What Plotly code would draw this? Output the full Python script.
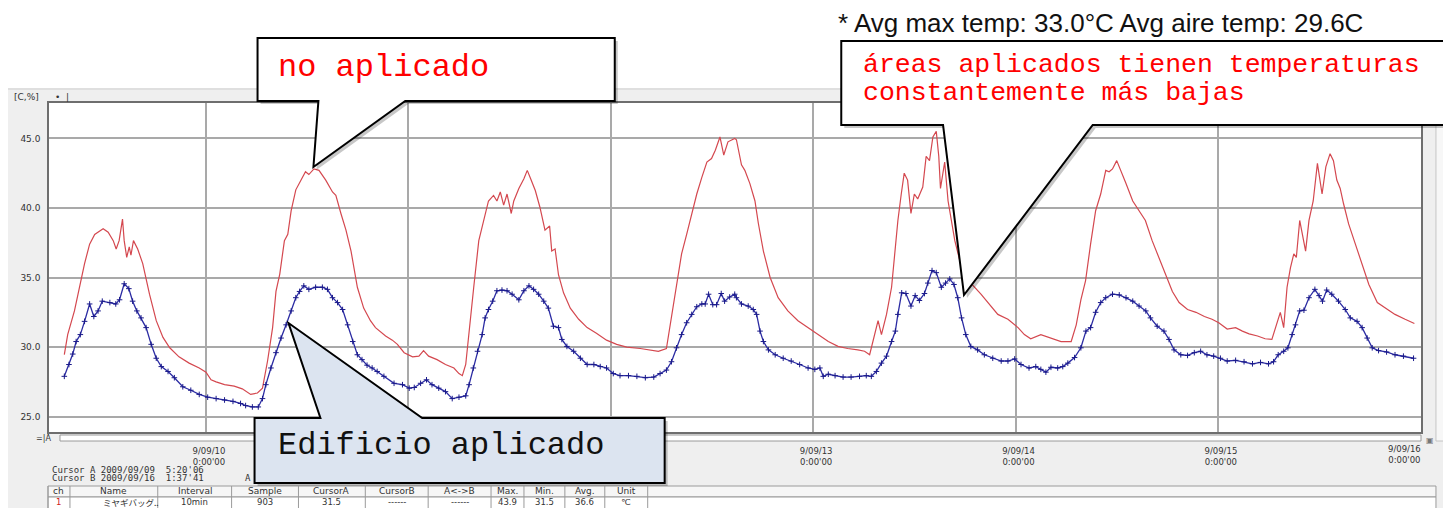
import plotly.graph_objects as go
from datetime import datetime, timedelta

# ---------------- data (hours after 2009-09-10 00:00, temperature in °C) ----------------
red_hours = [-16.8, -16.4, -15.6, -15.0, -14.4, -13.8, -13.2, -12.2, -11.6, -11.0, -10.65, -10.3, -9.9, -9.7,
             -9.4, -9.1, -8.9, -8.6, -8.1, -7.5, -6.7, -5.9, -5.1, -4.3, -3.2, -2.0, -0.8, 0.0, 0.6, 1.2, 2.2,
             3.35, 4.3, 5.3, 6.1, 6.7, 7.3, 7.9, 8.3, 8.75, 9.3, 9.7, 10.1, 10.65, 11.25, 11.8, 12.2, 12.8, 13.4,
             14.2, 15.0, 15.4, 16.0, 16.6, 17.2, 17.95, 18.7, 19.5, 20.1, 21.3, 22.1, 22.7, 23.5, 24.5, 25.25,
             25.8, 26.4, 27.4, 28.4, 29.4, 30.0, 30.4, 30.8, 31.2, 31.75, 32.35, 32.9, 33.5, 34.1, 34.5, 34.9,
             35.3, 35.7, 36.2, 36.5, 37.1, 37.7, 38.1, 38.5, 39.05, 39.6, 40.2, 40.75, 41.0, 41.4, 41.8, 42.4,
             43.2, 44.2, 45.2, 46.3, 47.5, 48.7, 49.9, 51.5, 52.7, 53.65, 54.6, 55.2, 55.8, 56.4, 57.0, 57.6,
             58.2, 58.8, 59.4, 59.95, 60.4, 60.95, 61.4, 61.9, 62.7, 62.9, 63.5, 63.9, 64.5, 65.1, 65.5, 66.1,
             66.9, 67.85, 69.0, 70.2, 71.4, 72.6, 73.8, 74.95, 76.1, 77.3, 78.1, 78.7, 79.1, 79.7, 80.1, 80.7,
             81.3, 81.7, 82.05, 82.45, 82.8, 83.2, 83.6, 84.0, 84.4, 85.0, 85.4, 85.8, 86.2, 86.6, 86.9, 87.1,
             87.6, 88.0, 88.8, 89.6, 90.7, 91.9, 93.1, 93.9, 95.1, 96.3, 97.05, 97.8, 99.0, 100.2, 101.4, 102.6,
             103.2, 103.75, 104.3, 104.9, 105.5, 106.1, 106.7, 107.1, 107.5, 108.0, 108.5, 109.1, 109.9, 110.65,
             111.4, 112.2, 113.0, 113.8, 114.6, 115.4, 116.4, 117.4, 118.4, 119.3, 120.1, 121.1, 122.1, 122.9,
             123.7, 124.7, 125.6, 126.4, 126.8, 127.4, 127.8, 128.2, 128.6, 129.0, 129.3, 129.7, 130.4, 130.8,
             131.3, 131.8, 132.35, 132.8, 133.3, 133.7, 134.1, 134.5, 134.9, 135.5, 136.3, 137.1, 137.9, 138.9,
             139.9, 141.0, 142.2, 143.3]
red_temp = [29.46, 30.9, 32.6, 34.3, 36.0, 37.4, 38.1, 38.5, 38.25, 37.65, 37.05, 37.65, 39.2, 37.65,
            36.45, 37.2, 36.6, 37.65, 37.05, 36.0, 33.8, 31.9, 30.7, 29.95, 29.3, 28.85, 28.5, 28.2, 27.65, 27.5, 27.3,
            27.2, 27.0, 26.6, 26.7, 27.05, 29.0, 31.4, 34.0, 35.25, 37.65, 38.1, 39.8, 41.3, 42.0, 42.6, 42.4, 42.8, 42.7,
            42.0, 41.15, 40.9, 39.6, 38.4, 36.9, 34.3, 32.8, 31.9, 31.4, 30.8, 30.5, 30.2, 29.6, 29.3, 29.35,
            29.75, 29.35, 29.1, 28.75, 28.5, 28.1, 27.95, 28.75, 30.9, 34.3, 37.65, 39.1, 40.5, 40.9, 40.5, 41.15,
            40.2, 41.0, 39.6, 40.5, 41.4, 42.1, 42.7, 42.1, 41.25, 40.05, 38.4, 38.7, 36.9, 37.05, 35.2, 33.9,
            32.8, 32.0, 31.4, 31.0, 30.5, 30.2, 30.0, 29.9, 29.8, 29.7, 29.9, 32.1, 34.3, 36.7, 38.1, 39.6,
            41.0, 42.2, 43.3, 43.55, 44.15, 45.1, 43.8, 44.75, 45.0, 44.9, 43.1, 42.7, 41.75, 40.5, 38.9, 36.9,
            35.0, 33.55, 32.6, 31.9, 31.4, 30.9, 30.4, 30.05, 29.9, 29.8, 29.7, 29.45, 30.4, 31.9, 30.9, 32.35,
            34.3, 36.9, 39.1, 41.0, 42.5, 42.0, 39.6, 41.0, 40.65, 41.5, 43.7, 43.4, 45.1, 45.5, 43.7, 41.4,
            43.3, 40.5, 37.65, 35.7, 34.6, 33.8, 32.95, 32.35, 32.0, 31.4, 30.9, 30.6, 30.9, 30.65, 30.4, 30.4,
            31.6, 33.4, 34.75, 37.4, 39.8, 41.0, 42.7, 42.6, 42.8, 43.4, 42.7, 41.75, 40.5, 39.8,
            39.1, 37.65, 36.45, 35.2, 34.0, 33.2, 32.7, 32.5, 32.2, 32.0, 31.75, 31.3, 31.4, 31.15,
            30.95, 30.8, 30.6, 30.55, 31.4, 32.5, 31.4, 34.3, 35.7, 36.7, 36.45, 39.1, 36.9, 39.1,
            40.5, 43.2, 41.0, 42.95, 43.9, 43.4, 42.0, 41.4, 40.3, 38.85, 37.4, 35.95, 34.5, 33.2,
            32.8, 32.35, 32.0, 31.7]

blue_hours = [-16.8, -16.25, -15.8, -15.4, -14.9, -14.4, -13.8, -13.3, -12.8, -12.3, -11.4, -10.7, -10.25, -9.7,
              -9.15, -8.7, -8.2, -7.7, -7.1, -6.5, -5.9, -5.3, -4.5, -3.75, -2.75, -1.8, -0.8, 0.2, 1.2, 2.2, 3.2,
              4.1, 4.7, 5.5, 6.2, 6.7, 7.1, 7.7, 8.3, 8.9, 9.5, 10.1, 10.65, 11.1, 11.6, 12.2, 13.0, 13.8, 14.4,
              15.0, 15.6, 16.2, 16.8, 17.4, 17.95, 18.5, 19.1, 19.7, 20.3, 21.1, 22.3, 23.3, 24.1, 24.7, 25.45,
              26.15, 26.8, 27.6, 28.4, 29.2, 30.0, 30.8, 31.2, 31.7, 32.2, 32.75, 33.1, 33.5, 34.0, 34.5, 35.1,
              35.7, 36.3, 37.1, 37.7, 38.3, 38.85, 39.45, 40.05, 40.6, 41.2, 41.8, 42.2, 42.8, 43.6, 44.4, 45.2,
              46.0, 46.75, 47.5, 48.3, 49.1, 50.1, 51.1, 52.1, 53.1, 53.85, 54.6, 55.2, 55.8, 56.4, 57.0, 57.6,
              58.2, 58.8, 59.2, 59.6, 60.1, 60.55, 61.1, 61.5, 62.1, 62.7, 62.9, 63.5, 64.3, 64.9, 65.3, 65.7,
              66.1, 66.7, 67.5, 68.45, 69.4, 70.4, 71.4, 72.2, 72.8, 73.2, 73.8, 74.6, 75.55, 76.5, 77.5, 78.3,
              78.9, 79.5, 80.1, 80.7, 81.3, 81.75, 82.05, 82.5, 83.0, 83.6, 84.1, 84.6, 85.2, 85.6, 86.1, 86.6,
              87.2, 87.7, 88.2, 88.7, 89.15, 89.6, 90.1, 90.7, 91.5, 92.3, 93.3, 94.3, 95.1, 95.9, 96.65, 97.6,
              98.4, 99.0, 99.6, 100.2, 101.0, 101.6, 102.2, 103.0, 103.75, 104.35, 104.9, 105.5, 106.1, 106.7,
              107.5, 108.3, 109.1, 109.9, 110.65, 111.45, 112.0, 112.8, 113.6, 114.2, 114.8, 115.6, 116.4, 117.2,
              117.95, 118.7, 119.5, 120.3, 121.1, 122.1, 123.1, 124.1, 125.05, 126.0, 126.6, 127.15, 127.8, 128.3,
              128.8, 129.2, 129.7, 130.2, 130.8, 131.5, 132.0, 132.4, 132.9, 133.5, 134.3, 135.1, 135.7, 136.5,
              137.1, 137.7, 138.3, 139.05, 140.0, 141.0, 142.0, 143.2]
blue_temp = [27.9, 28.75, 29.5, 30.4, 30.9, 31.85, 33.1, 32.2, 32.6, 33.3, 33.2, 33.1, 33.4, 34.55,
             34.2, 33.3, 32.6, 32.1, 31.4, 30.2, 29.2, 28.6, 28.25, 27.8, 27.15, 26.9, 26.6, 26.4, 26.3, 26.2, 26.1,
             25.95, 25.8, 25.7, 25.7, 26.3, 27.3, 28.5, 29.6, 30.65, 31.6, 32.6, 33.55, 34.0, 34.4, 34.15, 34.3, 34.3, 34.15,
             33.55, 33.2, 32.7, 31.6, 30.4, 29.45, 29.1, 28.7, 28.5, 28.25, 27.9, 27.4, 27.3, 27.05, 27.1, 27.4,
             27.65, 27.3, 27.05, 26.8, 26.3, 26.4, 26.5, 27.3, 28.5, 29.7, 30.9, 32.1, 32.7, 33.3, 34.05, 34.1,
             34.05, 33.8, 33.4, 34.05, 34.4, 34.15, 33.8, 33.3, 32.8, 31.5, 31.4, 30.55, 30.05, 29.7, 29.2, 28.75,
             28.75, 28.6, 28.5, 28.1, 27.95, 27.95, 27.9, 27.8, 27.85, 28.1, 28.35, 28.95, 29.95, 30.9, 31.75, 32.35,
             32.9, 33.1, 33.1, 33.8, 33.05, 33.05, 33.85, 33.3, 33.6, 33.8, 33.55, 33.1, 32.95, 32.7, 32.35, 31.15,
             30.4, 29.8, 29.45, 29.2, 29.0, 28.75, 28.5, 28.4, 28.5, 27.9, 28.05, 27.95, 27.85, 27.85, 27.9, 27.95,
             27.9, 28.25, 28.85, 29.35, 30.4, 31.15, 32.35, 33.9, 33.85, 32.95, 33.7, 33.35, 33.85, 34.6, 35.5, 35.35,
             34.3, 34.6, 34.9, 34.5, 33.55, 32.1, 30.9, 30.05, 29.8, 29.45, 29.2, 29.0, 29.0, 29.15, 28.75, 28.5,
             28.6, 28.4, 28.2, 28.55, 28.5, 28.6, 28.85, 29.25, 29.95, 31.15, 31.4, 32.5, 33.2, 33.55,
             33.8, 33.75, 33.55, 33.3, 32.95, 32.6, 32.1, 31.5, 31.15, 30.55, 29.8, 29.45, 29.4, 29.6,
             29.7, 29.45, 29.35, 29.2, 29.0, 29.05, 28.95, 28.8, 28.9, 28.8, 28.95, 29.45, 29.7, 29.95,
             30.9, 31.6, 32.6, 32.65, 33.55, 34.15, 33.7, 33.3, 34.1, 33.8, 33.3, 32.7, 32.1, 31.85,
             31.4, 30.65, 29.95, 29.75, 29.65, 29.45, 29.35, 29.2]

y_tick_values = [25, 30, 35, 40, 45]
x_tick_days = ["2009-09-10", "2009-09-11", "2009-09-12", "2009-09-13", "2009-09-14", "2009-09-15", "2009-09-16"]
# labels of 9/11 and 9/12 are hidden behind the callout box in the reference; 9/16 is drawn shifted (edge)
x_tick_text = ["9/09/10<br>0:00'00", "", "", "9/09/13<br>0:00'00",
               "9/09/14<br>0:00'00", "9/09/15<br>0:00'00", ""]
last_tick_text = "9/09/16<br>0:00'00"

cursor_lines = ["Cursor A 2009/09/09  5:20'06", "Cursor B 2009/09/16  1:37'41"]
table_header = ["ch", "Name", "Interval", "Sample", "CursorA", "CursorB", "A<->B", "Max.", "Min.", "Avg.", "Unit"]
table_row = ["1", "ミヤギバッグ..", "10min", "903", "31.5", "------", "------", "43.9", "31.5", "36.6", "℃"]

note_text = "* Avg max temp: 33.0°C Avg aire temp: 29.6C"
label_no = "no aplicado"
label_areas = ["áreas aplicados tienen temperaturas", "constantemente más bajas"]
label_edif = "Edificio aplicado"

# ---------------- geometry helpers (page pixels; page body has an 8px margin) ----------------
OFF = 8
W, H = 1451 - OFF, 508 - OFF
ML, MR, MT, MB = 38, 30, 95, 76
PW, PH = W - ML - MR, H - MT - MB


def X(px):
    return (px - OFF - ML) / PW


def Y(py):
    return (H - MB - (py - OFF)) / PH


def path(points):
    return "M " + " L ".join(f"{X(a):.5f},{Y(b):.5f}" for a, b in points) + " Z"


base = datetime(2009, 9, 10)
red_x = [base + timedelta(hours=h) for h in red_hours]
blue_x = [base + timedelta(hours=h) for h in blue_hours]

fig = go.Figure()
fig.add_trace(go.Scatter(x=red_x, y=red_temp, mode="lines", name="no aplicado",
                         line=dict(color="#d4484f", width=1.2)))
fig.add_trace(go.Scatter(x=blue_x, y=blue_temp, mode="lines+markers", name="aplicado",
                         line=dict(color="#2b2ba3", width=1.3),
                         marker=dict(symbol="cross-thin", size=4, line=dict(color="#1a1a8a", width=1))))

shapes = []
# window chrome (below plot)
shapes.append(dict(type="rect", xref="paper", yref="paper", x0=X(0), x1=X(1460), y0=Y(88), y1=Y(520),
                   fillcolor="#efefef", line=dict(width=0), layer="below"))
shapes.append(dict(type="line", xref="paper", yref="paper", x0=X(0), x1=X(1460), y0=Y(89), y1=Y(89),
                   line=dict(color="#cfcfcf", width=1), layer="below"))
shapes.append(dict(type="rect", xref="paper", yref="paper", x0=0, x1=1, y0=0, y1=1,
                   fillcolor="white", line=dict(width=0), layer="below"))
# scrollbars
shapes.append(dict(type="rect", xref="paper", yref="paper", x0=X(57), x1=X(1421), y0=Y(435), y1=Y(441),
                   fillcolor="white", line=dict(color="#9a9a9a", width=1), layer="below"))
shapes.append(dict(type="rect", xref="paper", yref="paper", x0=X(1436), x1=X(1450), y0=Y(92), y1=Y(441),
                   fillcolor="#f7f7f7", line=dict(color="#c4c4c4", width=1), layer="below"))
# table
shapes.append(dict(type="rect", xref="paper", yref="paper", x0=X(45), x1=X(1436), y0=Y(486), y1=Y(497),
                   fillcolor="#f6f6f6", line=dict(color="#9a9a9a", width=1), layer="below"))
shapes.append(dict(type="rect", xref="paper", yref="paper", x0=X(45), x1=X(1436), y0=Y(497), y1=Y(515),
                   fillcolor="white", line=dict(color="#9a9a9a", width=1), layer="below"))
col_edges = [45, 67, 155, 229, 296, 363, 426, 489, 522, 563, 603, 646]
for cx in col_edges:
    shapes.append(dict(type="line", xref="paper", yref="paper", x0=X(cx), x1=X(cx), y0=Y(486), y1=Y(515),
                       line=dict(color="#9a9a9a", width=1), layer="below"))

# callouts (above)
callouts = [
    ([(255, 38), (613, 38), (613, 101), (403, 101), (311, 167), (316, 101), (255, 101)], "white"),
    ([(840, 41), (1446, 41), (1446, 125), (1092, 125), (963, 295), (942, 125), (840, 125)], "white"),
    ([(252, 418), (318, 418), (286, 323), (420, 418), (663, 418), (663, 483), (252, 483)], "#dce4f0"),
]
for pts, fill in callouts:
    shadow = [(a + 3, b + 3) for a, b in pts]
    shapes.append(dict(type="path", xref="paper", yref="paper", path=path(shadow),
                       fillcolor="rgba(0,0,0,0.22)", line=dict(width=0), layer="above"))
    shapes.append(dict(type="path", xref="paper", yref="paper", path=path(pts),
                       fillcolor=fill, line=dict(color="black", width=2), layer="above"))

annotations = []


def txt(px, py, s, size, color="#333333", family="Liberation Sans", xanchor="left"):
    annotations.append(dict(xref="paper", yref="paper", x=X(px), y=Y(py), text=s, showarrow=False,
                            xanchor=xanchor, yanchor="middle",
                            font=dict(size=size, color=color, family=family)))


txt(835, 23, note_text, 26, "#111111", "Liberation Sans")
txt(273, 67, label_no, 32, "#ff0000", "Liberation Mono")
txt(860, 65, label_areas[0], 26.5, "#ff0000", "Liberation Mono")
txt(860, 93, label_areas[1], 26.5, "#ff0000", "Liberation Mono")
txt(273, 445, label_edif, 32, "#111111", "Liberation Mono")

txt(9, 97, "[C,%]", 9, "#333333", "DejaVu Sans")
txt(50, 97, "•  |", 9, "#333333", "DejaVu Sans")
txt(31, 438, "=|A", 8, "#333333", "DejaVu Sans")
txt(1424, 440, "▣", 8, "#777777", "DejaVu Sans")
txt(47, 470, cursor_lines[0], 9, "#333333", "DejaVu Sans Mono")
txt(47, 478, cursor_lines[1], 9, "#333333", "DejaVu Sans Mono")
txt(240, 478, "A", 9, "#333333", "DejaVu Sans Mono")
# last x tick label, pulled inside the window like the reference
annotations.append(dict(xref="x", yref="paper", x=x_tick_days[-1], y=Y(442), text=last_tick_text,
                        showarrow=False, xanchor="right", yanchor="top", xshift=3,
                        font=dict(size=8.5, color="#333333", family="DejaVu Sans")))

centers = [(col_edges[i] + col_edges[i + 1]) / 2 for i in range(len(col_edges) - 1)]
for i, (hdr, val) in enumerate(zip(table_header, table_row)):
    txt(centers[i], 491, hdr, 9, "#333333", "DejaVu Sans", "center")
    if i == 1:
        txt(98, 502, val, 8.5, "#333333", "Noto Sans CJK JP", "left")
    else:
        txt(centers[i], 502, val, 8.5, "#d02020" if i == 0 else "#333333", "DejaVu Sans", "center")

fig.update_layout(
    width=W, height=H, autosize=False,
    margin=dict(l=ML, r=MR, t=MT, b=MB, pad=0),
    paper_bgcolor="white", plot_bgcolor="white",
    showlegend=False,
    shapes=shapes, annotations=annotations,
    xaxis=dict(type="date", range=["2009-09-09 05:23", "2009-09-16 00:05"],
               tickvals=x_tick_days, ticktext=x_tick_text, ticks="",
               tickfont=dict(size=8.5, color="#333333", family="DejaVu Sans"),
               ticklabelstandoff=10, ticklabelshift=3,
               showgrid=True, gridcolor="#a9a9a9", gridwidth=1.5,
               showline=True, linecolor="#6e6e6e", linewidth=1.5, mirror=True, zeroline=False),
    yaxis=dict(range=[23.9, 47.54], tickvals=y_tick_values, tickformat=".1f", ticks="",
               tickfont=dict(size=9, color="#333333", family="DejaVu Sans"),
               ticklabelstandoff=5,
               showgrid=True, gridcolor="#a9a9a9", gridwidth=1.5,
               showline=True, linecolor="#6e6e6e", linewidth=1.5, mirror=True, zeroline=False),
)

fig.write_html("out.html")
